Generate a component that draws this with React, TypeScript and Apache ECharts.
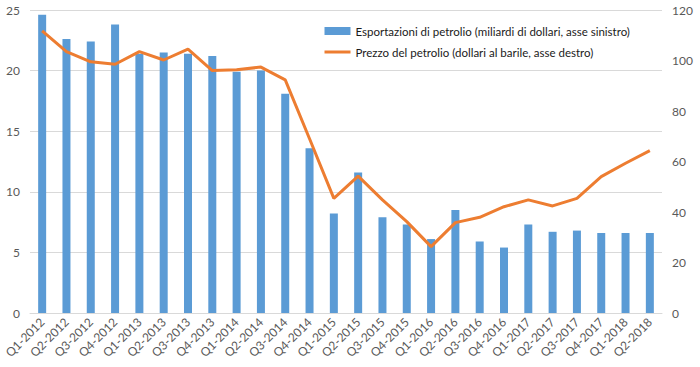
import React, { useEffect, useRef } from "react";
import * as echarts from "echarts";

const categories = [
  "Q1-2012", "Q2-2012", "Q3-2012", "Q4-2012",
  "Q1-2013", "Q2-2013", "Q3-2013", "Q4-2013",
  "Q1-2014", "Q2-2014", "Q3-2014", "Q4-2014",
  "Q1-2015", "Q2-2015", "Q3-2015", "Q4-2015",
  "Q1-2016", "Q2-2016", "Q3-2016", "Q4-2016",
  "Q1-2017", "Q2-2017", "Q3-2017", "Q4-2017",
  "Q1-2018", "Q2-2018",
];

const exportsValues = [
  24.6, 22.6, 22.4, 23.8,
  21.4, 21.5, 21.4, 21.2,
  19.9, 20.0, 18.1, 13.6,
  8.2, 11.6, 7.9, 7.3,
  6.1, 8.5, 5.9, 5.4,
  7.3, 6.7, 6.8, 6.6,
  6.6, 6.6,
];

const priceValues = [
  111.7, 103.5, 99.5, 98.5,
  103.5, 100.2, 104.5, 96.0,
  96.3, 97.4, 92.3, 69.0,
  45.4, 54.2, 44.8, 36.2,
  26.3, 35.8, 37.9, 42.1,
  44.8, 42.4, 45.4, 54.0,
  59.3, 64.3,
];

const leftTicks = { min: 0, max: 25, interval: 5 };
const rightTicks = { min: 0, max: 120, interval: 20 };

const seriesNames = [
  "Esportazioni di petrolio (miliardi di dollari, asse sinistro)",
  "Prezzo del petrolio (dollari al barile, asse destro)",
];

const FONT = "Lato, 'Open Sans', sans-serif";

export default function App() {
  const ref = useRef<HTMLDivElement>(null);
  useEffect(() => {
    if (!ref.current) return;
    const chart = echarts.init(ref.current, undefined, { renderer: "svg" });
    chart.setOption({
      animation: false,
      textStyle: { fontFamily: FONT },
      grid: { left: 30, right: 38, top: 10, bottom: 54, containLabel: false },
      legend: {
        orient: "vertical",
        left: 318,
        top: 20,
        itemWidth: 26,
        itemHeight: 8,
        itemGap: 9,
        textStyle: { fontFamily: FONT, fontSize: 11.5, color: "#1a1a1a" },
        data: [
          { name: seriesNames[0], icon: "rect" },
          {
            name: seriesNames[1],
            itemStyle: { color: "rgba(0,0,0,0)", opacity: 0, borderWidth: 0 },
            lineStyle: { color: "#ED7D31", width: 3 },
          },
        ],
      },
      xAxis: {
        type: "category",
        data: categories,
        axisTick: { show: false },
        axisLine: { lineStyle: { color: "#d9d9d9" } },
        axisLabel: {
          rotate: 45,
          interval: 0,
          color: "#595959",
          fontSize: 12,
          fontFamily: FONT,
          margin: 7,
        },
      },
      yAxis: [
        {
          type: "value",
          min: leftTicks.min,
          max: leftTicks.max,
          interval: leftTicks.interval,
          axisLine: { show: false },
          axisTick: { show: false },
          splitLine: { lineStyle: { color: "#d9d9d9" } },
          axisLabel: { color: "#595959", fontSize: 12, fontFamily: FONT, margin: 10 },
        },
        {
          type: "value",
          min: rightTicks.min,
          max: rightTicks.max,
          interval: rightTicks.interval,
          axisLine: { show: false },
          axisTick: { show: false },
          splitLine: { show: false },
          axisLabel: { color: "#595959", fontSize: 12, fontFamily: FONT, margin: 10 },
        },
      ],
      series: [
        {
          name: seriesNames[0],
          type: "bar",
          data: exportsValues,
          yAxisIndex: 0,
          barWidth: 8,
          itemStyle: { color: "#5B9BD5" },
        },
        {
          name: seriesNames[1],
          type: "line",
          data: priceValues,
          yAxisIndex: 1,
          symbol: "none",
          lineStyle: { color: "#ED7D31", width: 3 },
          itemStyle: { color: "#ED7D31" },
        },
      ],
    });
    return () => chart.dispose();
  }, []);
  return (
    <div
      ref={ref}
      style={{ position: "absolute", left: 0, top: 0, width: 700, height: 367, background: "#fff" }}
    />
  );
}
